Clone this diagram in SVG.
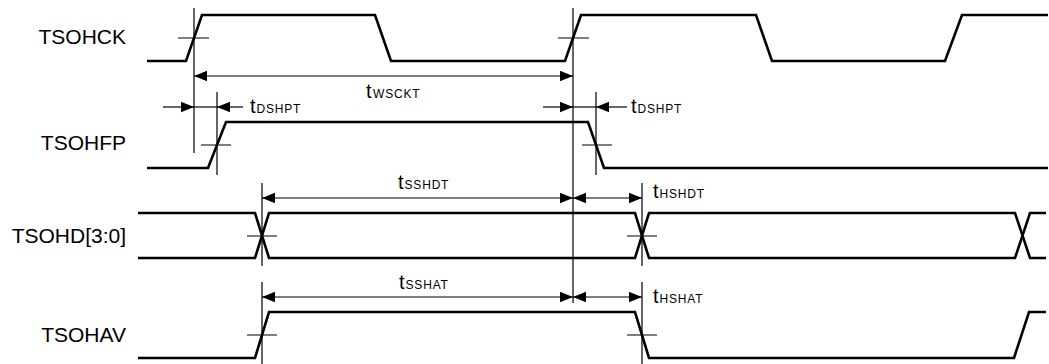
<svg xmlns="http://www.w3.org/2000/svg" width="1049" height="364" viewBox="0 0 1049 364">
<style>
.sig{fill:none;stroke:#000;stroke-width:2.6;stroke-linejoin:miter}
.ref{fill:none;stroke:#000;stroke-width:1.2}
.dim{fill:none;stroke:#000;stroke-width:1.2}
.lbl{font-family:"Liberation Sans",Arial,sans-serif;font-size:21px;fill:#000;text-anchor:end}
.tl{font-family:"Liberation Sans",Arial,sans-serif;font-size:20px;fill:#000}
.sub{font-size:12px;letter-spacing:0.8px}
</style>
<defs>
<marker id="ah" markerUnits="userSpaceOnUse" markerWidth="14" markerHeight="11" refX="13" refY="5.25" orient="auto-start-reverse">
<path d="M0,0 L13,5.25 L0,10.5 Z" fill="#000"/>
</marker>
</defs>
<rect width="1049" height="364" fill="#fff"/>

<g id="TSOHCK">
<text class="lbl" x="126" y="44">TSOHCK</text>
<path class="sig" d="M147,61 H186 L202,15 H375 L391,61 H565 L581,15 H756 L772,61 H945 L962,15 H1048"/>
<path class="ref" d="M178,38 H209 M558,38 H589"/>
</g>

<g id="TSOHFP">
<text class="lbl" x="126" y="150">TSOHFP</text>
<path class="sig" d="M147,168 H208 L226,122 H588 L604,168 H1048"/>
<path class="ref" d="M201,145 H231 M582,145 H612"/>
</g>

<g id="TSOHD">
<text class="lbl" x="126" y="243">TSOHD[3:0]</text>
<path class="sig" d="M138,213 H255 L269,258 H635 L649,213 H1015 L1030,258 H1046"/>
<path class="sig" d="M138,258 H255 L269,213 H635 L649,258 H1015 L1030,213 H1046"/>
<path class="ref" d="M247,236 H277 M627,236 H657"/>
</g>

<g id="TSOHAV">
<text class="lbl" x="126" y="342">TSOHAV</text>
<path class="sig" d="M138,358 H255 L269,312 H635 L649,358 H1014 L1029,312 H1046"/>
<path class="ref" d="M247,335 H277 M627,335 H657"/>
</g>

<g id="connectors">
<path class="ref" d="M194,8 V153 M573,8 V303 M217,92 V175 M596,92 V175 M262,183 V266 M262,282 V364 M642,183 V266 M642,282 V364"/>
<line class="dim" x1="194" y1="76" x2="573" y2="76" marker-start="url(#ah)" marker-end="url(#ah)"/>
<line class="dim" x1="163" y1="107" x2="194" y2="107" marker-end="url(#ah)"/>
<line class="dim" x1="194" y1="107" x2="217" y2="107"/>
<line class="dim" x1="243" y1="107" x2="217" y2="107" marker-end="url(#ah)"/>
<line class="dim" x1="543" y1="107" x2="573" y2="107" marker-end="url(#ah)"/>
<line class="dim" x1="573" y1="107" x2="596" y2="107"/>
<line class="dim" x1="627" y1="107" x2="596" y2="107" marker-end="url(#ah)"/>
<line class="dim" x1="262" y1="198" x2="573" y2="198" marker-start="url(#ah)" marker-end="url(#ah)"/>
<line class="dim" x1="573" y1="198" x2="642" y2="198" marker-start="url(#ah)" marker-end="url(#ah)"/>
<line class="dim" x1="262" y1="297" x2="573" y2="297" marker-start="url(#ah)" marker-end="url(#ah)"/>
<line class="dim" x1="573" y1="297" x2="642" y2="297" marker-start="url(#ah)" marker-end="url(#ah)"/>
</g>

<g id="timing-labels">
<text class="tl" x="366" y="98">t<tspan class="sub" dx="1.5">WSCKT</tspan></text>
<text class="tl" x="250" y="113">t<tspan class="sub" dx="1">DSHPT</tspan></text>
<text class="tl" x="631" y="113">t<tspan class="sub" dx="1">DSHPT</tspan></text>
<text class="tl" x="398" y="189">t<tspan class="sub" dx="1">SSHDT</tspan></text>
<text class="tl" x="653" y="198">t<tspan class="sub" dx="1">HSHDT</tspan></text>
<text class="tl" x="399" y="289">t<tspan class="sub" dx="1">SSHAT</tspan></text>
<text class="tl" x="653" y="303">t<tspan class="sub" dx="1">HSHAT</tspan></text>
</g>
</svg>
